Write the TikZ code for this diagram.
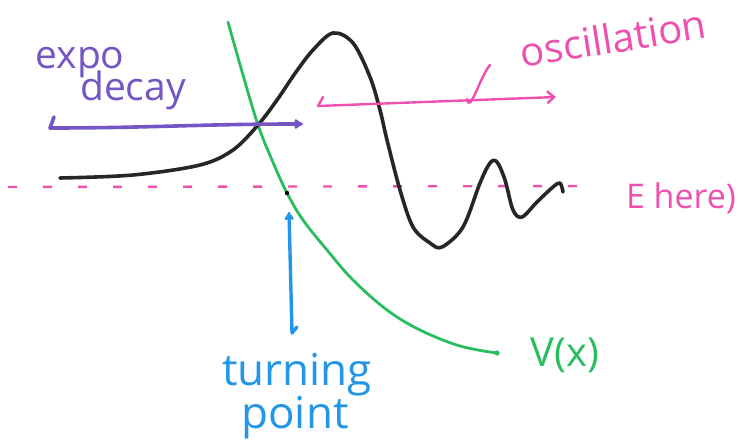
\documentclass[tikz,border=0pt]{standalone}
\usepackage{fontspec}
\setmainfont{Open Sans}
\usetikzlibrary{arrows.meta}
\definecolor{vgreen}{RGB}{40,190,95}
\definecolor{vpurple}{RGB}{115,85,195}
\definecolor{vpink}{RGB}{238,80,175}
\definecolor{vblue}{RGB}{35,150,232}
\tikzset{
  wave/.style={line width=3.6pt,black!85,line cap=round,line join=round},
  potential/.style={line width=2.8pt,vgreen,line cap=round},
  energy/.style={line width=2.4pt,vpink,dash pattern=on 9pt off 26pt},
  decayarrow/.style={line width=3.6pt,vpurple,line cap=round,-{Latex[round,length=10pt,width=12pt]}},
  oscarrow/.style={line width=2.4pt,vpink,line cap=round,-{Straight Barb[length=7pt,width=12pt]}},
  tparrow/.style={line width=3.4pt,vblue,line cap=round,-{Latex[round,length=9pt,width=12pt]}},
  lbl/.style={inner sep=0pt,anchor=center,font=\fontsize{#1}{#1}\selectfont},
}
\begin{document}
\begin{tikzpicture}[x=1pt,y=-1pt]
\useasboundingbox (0,0) rectangle (741,444);
% energy level (dashed)
\coordinate (eL) at (8,187);
\coordinate (eR) at (600,186);
\draw[energy] (eL) -- (eR);
\node[lbl=34,text=vpink] (elabel) at (681,198) {E here)};
% potential V(x)
\draw[potential] plot[smooth,tension=0.6] coordinates {(228,22) (243,75) (258,125) (272,160) (287,193) (303,220) (327,250) (353,280) (387,310) (420,330) (460,346) (497,353)};
\coordinate (vend) at (497,353);
\fill[vgreen] (vend) circle (2.6pt);
\node[lbl=40,text=vgreen] (vlabel) at (565,355) {V(x)};
% wavefunction
\draw[wave] plot[smooth,tension=0.55] coordinates {(60,178) (133,175) (200,165) (233,150) (258,125) (277,100) (296,72) (313,50) (333,33) (353,43) (370,77) (380,110) (387,140) (400,190) (413,227) (430,243) (442,247) (463,227) (480,183) (490,163) (497,162) (505,180) (513,210) (522,217) (537,202) (553,187) (560,183) (563,192)};
% turning point
\coordinate (tp) at (287,193);
\fill[black] (tp) circle (2.2pt);
% expo decay arrow
\coordinate (dL) at (50,128);
\coordinate (dH) at (54,117);
\coordinate (dR) at (303,124);
\draw[line width=3.6pt,vpurple,line cap=round] (dH) -- (dL);
\draw[decayarrow] (dL) to[out=0,in=180] (dR);
\node[lbl=39,text=vpurple] (expo) at (80,63) {expo};
\node[lbl=39,text=vpurple] (decay) at (133,90) {decay};
% oscillation arrow
\coordinate (oL) at (318,106);
\coordinate (oH) at (323,97);
\coordinate (oR) at (556,97);
\draw[line width=2.4pt,vpink,line cap=round] (oH) -- (oL);
\draw[oscarrow] (oL) -- (oR);
\coordinate (tickA) at (467,99);
\coordinate (tickB) at (490,65);
\draw[line width=2.4pt,vpink,line cap=round] (tickA) to[out=-80,in=-130] (tickB);
\node[lbl=40,text=vpink,rotate=9] (osc) at (613,38) {oscillation};
% turning point arrow
\coordinate (bB) at (292,333);
\coordinate (bH) at (297,327);
\coordinate (bT) at (289,212);
\draw[line width=3.4pt,vblue,line cap=round] (bH) -- (bB);
\draw[tparrow] (bB) -- (bT);
\node[lbl=44,text=vblue] (turning) at (297,375) {turning};
\node[lbl=44,text=vblue] (point) at (295,418) {point};
\end{tikzpicture}
\end{document}
